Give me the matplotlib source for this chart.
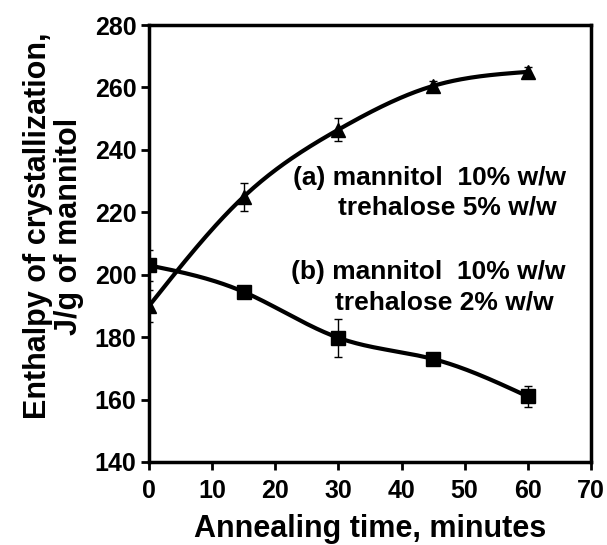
import numpy as np
import matplotlib.pyplot as plt

plt.rcParams['font.family'] = ['Liberation Sans', 'DejaVu Sans']
plt.rcParams['font.weight'] = 'bold'

# data
time_min = [0, 15, 30, 45, 60]
enthalpy_a = [190, 225, 246.5, 260.5, 265]
err_a = [5, 4.5, 3.7, 1.6, 1.5]
enthalpy_b = [203, 194.5, 179.8, 173, 161]
err_b = [5, 1.5, 6, 2, 3.5]


def natural_spline(x, y, n=200):
    x = np.asarray(x, float)
    y = np.asarray(y, float)
    k = len(x)
    h = np.diff(x)
    A = np.zeros((k, k))
    r = np.zeros(k)
    A[0, 0] = A[-1, -1] = 1
    for i in range(1, k - 1):
        A[i, i - 1] = h[i - 1]
        A[i, i] = 2 * (h[i - 1] + h[i])
        A[i, i + 1] = h[i]
        r[i] = 6 * ((y[i + 1] - y[i]) / h[i] - (y[i] - y[i - 1]) / h[i - 1])
    m = np.linalg.solve(A, r)
    xs = np.linspace(x[0], x[-1], n)
    idx = np.clip(np.searchsorted(x, xs) - 1, 0, k - 2)
    x0, x1 = x[idx], x[idx + 1]
    hh = x1 - x0
    t0 = x1 - xs
    t1 = xs - x0
    ys = (m[idx] * t0**3 / (6 * hh) + m[idx + 1] * t1**3 / (6 * hh)
          + (y[idx] / hh - m[idx] * hh / 6) * t0
          + (y[idx + 1] / hh - m[idx + 1] * hh / 6) * t1)
    return xs, ys


fig = plt.figure(figsize=(6.07, 5.45), dpi=100)
ax = fig.add_axes([0.2455, 0.1523, 0.728, 0.8017])

xs, ys = natural_spline(time_min, enthalpy_a)
ax.plot(xs, ys, color='black', lw=3)
ax.errorbar(time_min, enthalpy_a, yerr=err_a, fmt='^', color='black',
            ms=10, capsize=3, elinewidth=1, capthick=1)

xs, ys = natural_spline(time_min, enthalpy_b)
ax.plot(xs, ys, color='black', lw=3)
ax.errorbar(time_min, enthalpy_b, yerr=err_b, fmt='s', color='black',
            ms=10, capsize=3, elinewidth=1, capthick=1)

ax.text(44.5, 231, '(a) mannitol  10% w/w', fontsize=19, fontweight='bold',
        ha='center', va='center')
ax.text(47.2, 221.7, 'trehalose 5% w/w', fontsize=19, fontweight='bold',
        ha='center', va='center')
ax.text(44.3, 200.8, '(b) mannitol  10% w/w', fontsize=19, fontweight='bold',
        ha='center', va='center')
ax.text(46.7, 191.2, 'trehalose 2% w/w', fontsize=19, fontweight='bold',
        ha='center', va='center')

ax.set_xlim(0, 70)
ax.set_ylim(140, 280)
ax.set_xticks(range(0, 71, 10))
ax.set_yticks(range(140, 281, 20))
ax.tick_params(labelsize=18, width=2, length=6, direction='out', pad=3)
ax.tick_params(axis='x', pad=6)
ax.tick_params(top=False, right=False)
for lab in ax.get_xticklabels() + ax.get_yticklabels():
    lab.set_fontweight('bold')
for s in ax.spines.values():
    s.set_linewidth(2.5)

ax.set_xlabel('Annealing time, minutes', fontsize=22, fontweight='bold')
ax.set_ylabel('Enthalpy of crystallization,\nJ/g of mannitol', fontsize=22,
              fontweight='bold', linespacing=1.05)
ax.xaxis.set_label_coords(0.5, -0.12)
ax.yaxis.set_label_coords(-0.147, 0.54)

fig.savefig('out.png', dpi=100)
